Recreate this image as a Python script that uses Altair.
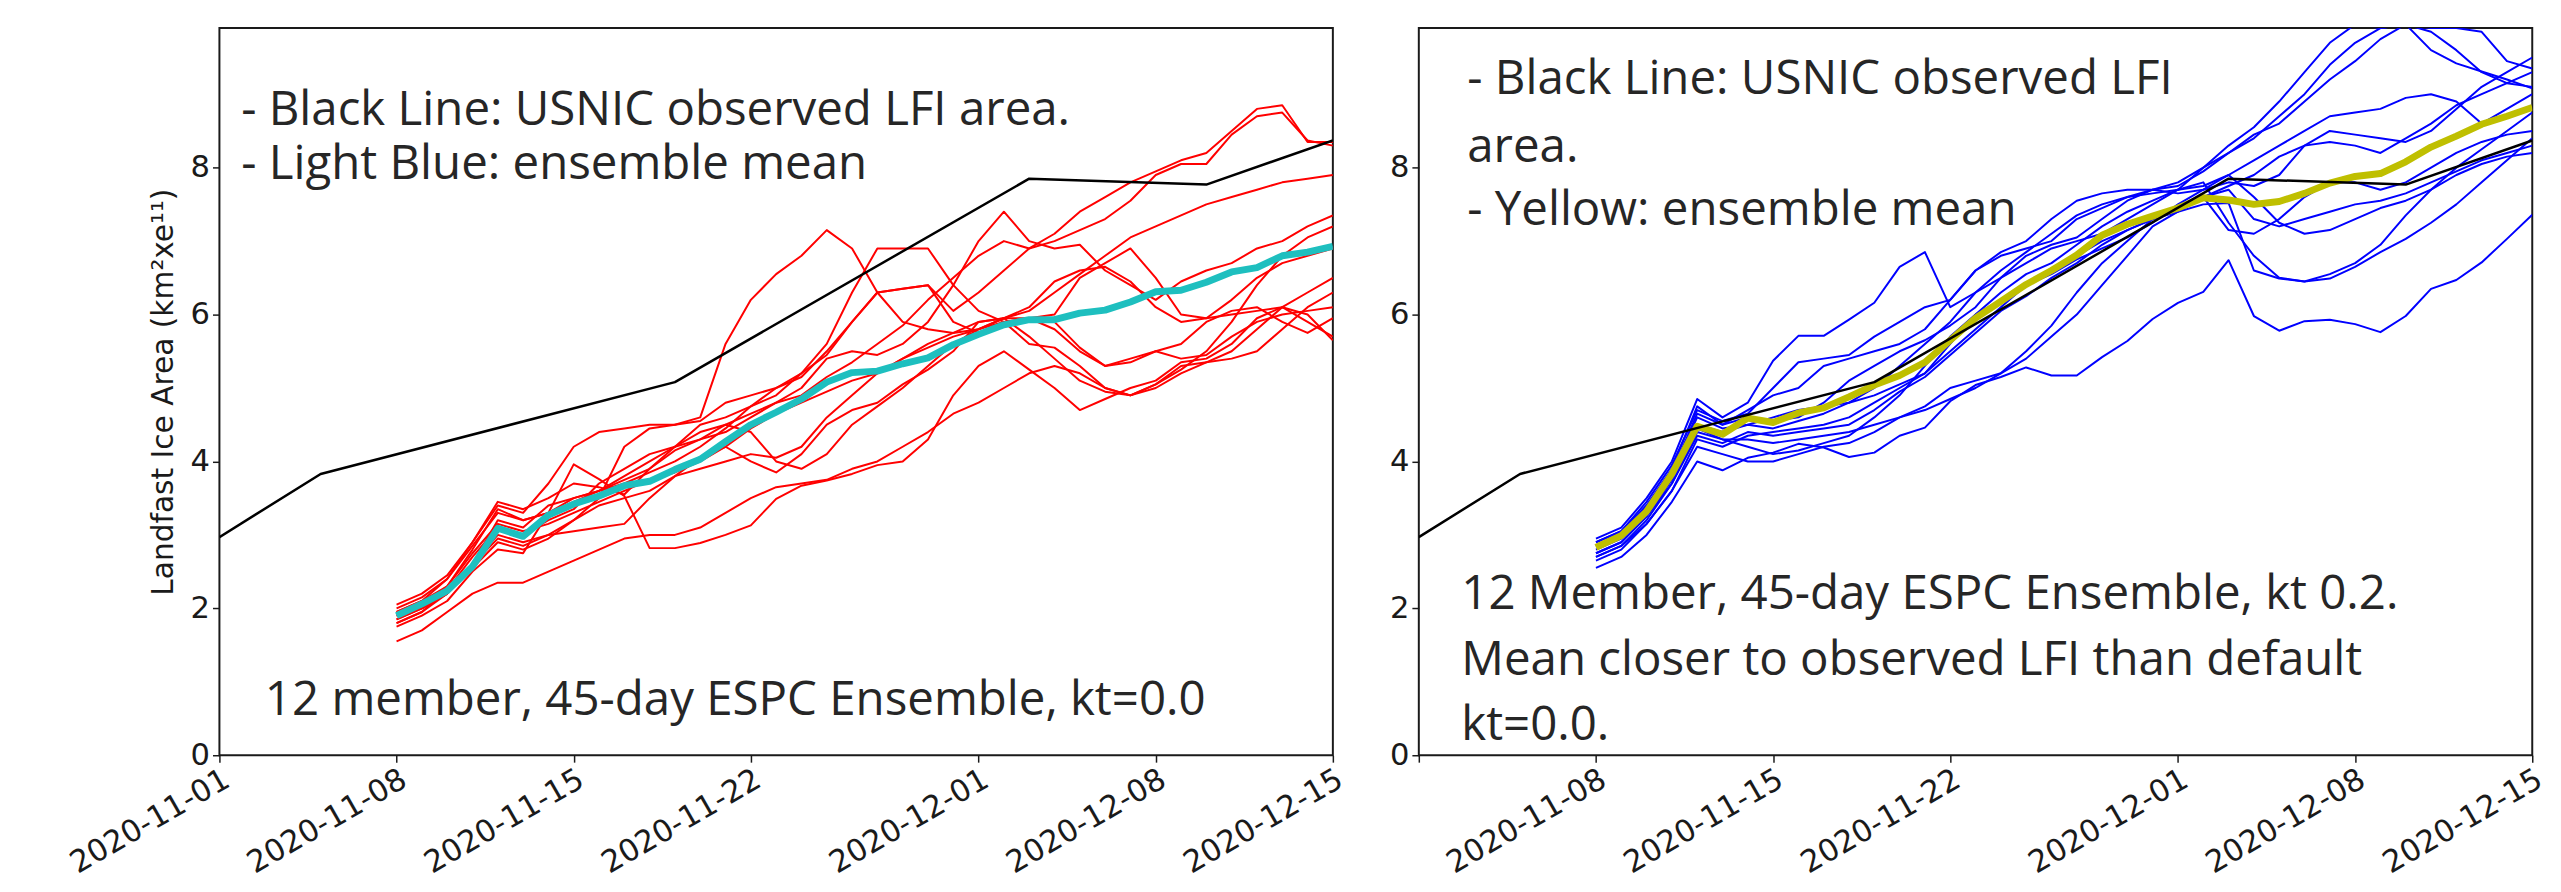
import altair as alt
import pandas as pd

# ---------------- data ----------------
DAYS = pd.date_range("2020-11-08", "2020-12-15", freq="D").strftime("%Y-%m-%d").tolist()

OBS_DATES = ["2020-11-01", "2020-11-05", "2020-11-19", "2020-12-03", "2020-12-10", "2020-12-15"]
OBS_VALUES = [2.97, 3.83, 5.08, 7.85, 7.77, 8.37]

TICK_DATES = ["2020-11-01", "2020-11-08", "2020-11-15", "2020-11-22", "2020-12-01", "2020-12-08", "2020-12-15"]
Y_TICKS = [0, 2, 4, 6, 8]

# left panel (kt=0.0): ensemble mean and 12 members, daily 11-08 .. 12-15
MEAN_LEFT = [1.90, 2.06, 2.24, 2.57, 3.09, 2.98, 3.27, 3.42, 3.53, 3.67, 3.73, 3.89, 4.03, 4.27, 4.50,
             4.67, 4.85, 5.08, 5.21, 5.23, 5.33, 5.41, 5.59, 5.73, 5.86, 5.93, 5.93, 6.02, 6.06, 6.17,
             6.31, 6.33, 6.44, 6.58, 6.64, 6.80, 6.85, 6.93]
L01 = [1.85, 2.0, 2.2, 2.6, 3.2, 3.1, 3.4, 3.5, 3.6, 3.75, 3.9, 4.15, 4.3, 4.5, 4.65, 4.8, 4.9, 5.15, 5.35, 5.6,
       5.85, 6.2, 6.5, 6.8, 7.0, 6.9, 7.1, 7.4, 7.6, 7.8, 7.95, 8.1, 8.2, 8.5, 8.8, 8.85, 8.35, 8.35]
L02 = [1.95, 2.1, 2.3, 2.8, 3.35, 3.2, 3.3, 3.45, 3.6, 3.7, 3.85, 4.0, 4.2, 4.45, 4.75, 5.0, 5.2, 5.45, 5.9, 6.3,
       6.35, 6.4, 6.05, 6.3, 6.6, 6.9, 7.0, 7.15, 7.3, 7.55, 7.9, 8.05, 8.05, 8.45, 8.7, 8.75, 8.37, 8.3]
L03 = [1.95, 2.1, 2.4, 2.9, 3.4, 3.3, 3.7, 4.2, 4.4, 4.45, 4.5, 4.5, 4.6, 5.6, 6.2, 6.55, 6.8, 7.15, 6.9, 6.3,
       5.9, 5.8, 5.75, 5.8, 5.9, 5.95, 5.9, 5.55, 5.3, 5.35, 5.5, 5.6, 5.9, 6.05, 6.1, 5.9, 5.75, 5.95]
L04 = [1.8, 1.95, 2.25, 2.7, 3.1, 3.0, 3.2, 3.35, 3.7, 3.9, 4.1, 4.2, 4.3, 4.4, 4.6, 4.8, 5.0, 5.4, 5.5, 5.45,
       5.6, 5.9, 6.4, 7.0, 7.4, 7.0, 6.9, 6.95, 6.6, 6.4, 6.2, 6.45, 6.6, 6.7, 6.9, 7.0, 7.2, 7.35]
L05 = [2.0, 2.15, 2.4, 2.85, 3.3, 3.2, 3.3, 3.5, 3.6, 3.8, 4.0, 4.2, 4.5, 4.6, 4.75, 4.9, 5.2, 5.6, 6.3, 6.9,
       6.9, 6.9, 6.4, 6.05, 5.9, 5.6, 5.55, 5.3, 5.0, 4.9, 5.0, 5.2, 5.35, 5.5, 5.8, 6.1, 6.3, 6.5]
L06 = [1.9, 2.05, 2.3, 2.75, 3.15, 3.05, 3.15, 3.3, 3.45, 3.6, 3.75, 3.85, 4.0, 4.2, 4.45, 4.65, 4.8, 4.95, 5.1, 5.2,
       5.4, 5.55, 5.7, 5.8, 5.95, 6.05, 6.3, 6.55, 6.8, 7.05, 7.2, 7.35, 7.5, 7.6, 7.7, 7.8, 7.85, 7.9]
L07 = [1.85, 2.0, 2.2, 2.6, 2.95, 2.85, 3.0, 3.2, 3.4, 3.5, 3.6, 3.8, 3.9, 4.0, 4.1, 4.05, 4.2, 4.6, 4.9, 5.2,
       5.4, 5.6, 5.75, 5.9, 5.95, 5.7, 5.4, 5.1, 4.95, 4.9, 5.05, 5.25, 5.5, 5.9, 6.4, 6.8, 7.05, 7.2]
L08 = [1.75, 1.9, 2.1, 2.5, 2.8, 2.75, 3.3, 3.96, 3.76, 3.53, 2.82, 2.82, 2.89, 3.0, 3.13, 3.49, 3.67, 3.74, 3.83, 3.95,
       4.0, 4.3, 4.9, 5.3, 5.5, 5.25, 5.0, 4.7, 4.85, 5.0, 5.1, 5.35, 5.4, 5.6, 5.95, 6.1, 6.0, 5.65]
L09 = [1.55, 1.7, 1.95, 2.2, 2.35, 2.35, 2.5, 2.65, 2.8, 2.95, 3.0, 3.0, 3.1, 3.3, 3.5, 3.65, 3.7, 3.75, 3.9, 4.0,
       4.2, 4.4, 4.65, 4.8, 5.0, 5.2, 5.3, 5.2, 5.0, 4.9, 5.05, 5.3, 5.35, 5.4, 5.5, 5.8, 6.1, 6.3]
L10 = [2.05, 2.2, 2.45, 2.9, 3.45, 3.35, 3.5, 3.7, 3.65, 3.55, 3.9, 4.2, 4.4, 4.5, 4.4, 4.0, 3.9, 4.1, 4.5, 4.75,
       5.0, 5.3, 5.6, 5.8, 5.95, 6.1, 6.45, 6.6, 6.65, 6.45, 6.1, 5.9, 5.95, 6.2, 6.5, 6.7, 6.8, 6.9]
L11 = [1.8, 1.95, 2.2, 2.6, 3.0, 2.9, 3.0, 3.05, 3.1, 3.15, 3.5, 3.8, 4.05, 4.2, 4.0, 3.85, 4.1, 4.5, 4.7, 4.8,
       5.05, 5.25, 5.5, 5.9, 5.95, 5.95, 5.8, 5.5, 5.3, 5.4, 5.5, 5.4, 5.45, 5.7, 5.9, 6.0, 6.05, 6.1]
L12 = [1.9, 2.0, 2.2, 2.55, 2.9, 2.8, 2.95, 3.2, 3.5, 4.2, 4.45, 4.5, 4.55, 4.8, 4.9, 5.0, 5.15, 5.5, 5.9, 6.3,
       6.35, 6.4, 5.9, 5.75, 5.85, 5.95, 6.0, 6.5, 6.7, 6.9, 6.5, 6.0, 5.95, 6.0, 6.05, 6.1, 5.9, 5.7]

# right panel (kt 0.2)
MEAN_RIGHT = [2.83, 2.99, 3.32, 3.83, 4.48, 4.37, 4.59, 4.53, 4.66, 4.73, 4.88, 5.04, 5.17, 5.35, 5.65,
              5.95, 6.18, 6.41, 6.60, 6.81, 7.08, 7.23, 7.34, 7.45, 7.59, 7.56, 7.50, 7.54, 7.65, 7.79,
              7.88, 7.92, 8.08, 8.28, 8.43, 8.59, 8.70, 8.82]
R01 = [2.95, 3.1, 3.5, 4.0, 4.85, 4.6, 4.8, 5.37, 5.71, 5.71, 5.93, 6.16, 6.65, 6.85, 6.1, 6.3, 6.5, 6.7, 6.9, 7.0,
       7.1, 7.3, 7.5, 7.7, 8.0, 8.3, 8.55, 8.9, 9.3, 9.7, 9.95, 9.9, 9.95, 9.9, 9.9, 9.85, 9.45, 9.35]
R02 = [2.9, 3.05, 3.45, 3.95, 4.7, 4.55, 4.65, 5.0, 5.35, 5.4, 5.45, 5.7, 5.9, 6.1, 6.2, 6.6, 6.85, 7.0, 7.3, 7.55,
       7.65, 7.7, 7.7, 7.75, 7.95, 8.2, 8.45, 8.6, 8.9, 9.2, 9.45, 9.75, 9.95, 9.6, 9.42, 9.31, 9.2, 9.08]
R03 = [2.65, 2.8, 3.15, 3.6, 4.3, 4.2, 4.35, 4.4, 4.45, 4.5, 4.6, 4.8, 5.0, 5.2, 5.5, 5.8, 6.1, 6.4, 6.6, 6.8,
       7.0, 7.15, 7.3, 7.4, 7.5, 7.52, 6.6, 6.49, 6.45, 6.49, 6.65, 6.85, 7.03, 7.25, 7.5, 7.8, 8.1, 8.4]
R04 = [2.55, 2.7, 3.0, 3.45, 4.0, 3.88, 4.05, 4.12, 4.24, 4.19, 4.06, 4.12, 4.35, 4.46, 4.82, 5.04, 5.15, 5.28, 5.17, 5.17,
       5.42, 5.64, 5.94, 6.16, 6.31, 6.74, 5.98, 5.78, 5.91, 5.93, 5.87, 5.76, 5.98, 6.35, 6.47, 6.71, 7.03, 7.36]
R05 = [2.75, 2.9, 3.25, 3.75, 4.45, 4.3, 4.2, 4.1, 4.15, 4.25, 4.35, 4.6, 4.9, 5.3, 5.7, 6.0, 6.3, 6.55, 6.7, 6.95,
       7.2, 7.4, 7.55, 7.7, 7.8, 7.25, 6.8, 6.5, 6.45, 6.55, 6.7, 6.95, 7.35, 7.7, 8.0, 8.25, 8.5, 8.75]
R06 = [2.85, 3.0, 3.35, 3.85, 4.6, 4.45, 4.5, 4.6, 4.7, 4.75, 4.8, 5.0, 5.3, 5.6, 5.9, 6.3, 6.6, 6.85, 7.1, 7.35,
       7.5, 7.6, 7.65, 7.7, 7.75, 7.9, 8.1, 8.3, 8.5, 8.7, 8.75, 8.8, 8.95, 9.0, 8.9, 8.6, 8.8, 9.0]
R07 = [2.7, 2.85, 3.2, 3.7, 4.4, 4.3, 4.3, 4.25, 4.3, 4.35, 4.4, 4.5, 4.6, 4.75, 5.0, 5.1, 5.2, 5.4, 5.7, 6.0,
       6.4, 6.8, 7.2, 7.4, 7.6, 7.7, 7.3, 7.2, 7.3, 7.4, 7.5, 7.55, 7.65, 7.8, 7.95, 8.1, 8.2, 8.3]
R08 = [2.9, 3.05, 3.4, 3.9, 4.75, 4.5, 4.7, 4.9, 5.0, 5.3, 5.4, 5.5, 5.6, 5.8, 6.2, 6.6, 6.8, 6.9, 7.0, 7.3,
       7.45, 7.6, 7.7, 7.65, 7.7, 7.8, 7.75, 7.9, 8.3, 8.5, 8.45, 8.4, 8.35, 8.5, 8.8, 9.1, 9.3, 9.5]
R09 = [2.8, 2.95, 3.3, 3.8, 4.5, 4.4, 4.5, 4.45, 4.55, 4.65, 4.8, 4.9, 5.05, 5.2, 5.6, 6.0, 6.2, 6.4, 6.55, 6.75,
       6.9, 7.05, 7.25, 7.5, 7.7, 7.9, 7.6, 7.25, 7.1, 7.15, 7.3, 7.45, 7.55, 7.7, 7.9, 8.05, 8.15, 8.2]
R10 = [2.85, 3.0, 3.4, 3.85, 4.65, 4.5, 4.6, 4.55, 4.6, 4.8, 5.1, 5.3, 5.5, 5.65, 5.85, 6.1, 6.5, 6.8, 6.95, 7.05,
       7.3, 7.55, 7.7, 7.8, 8.0, 8.2, 8.4, 8.7, 9.0, 9.4, 9.7, 9.9, 9.95, 9.85, 9.6, 9.3, 9.15, 9.1]
R11 = [2.7, 2.85, 3.15, 3.6, 4.2, 4.1, 4.0, 4.0, 4.1, 4.2, 4.25, 4.4, 4.6, 4.7, 4.85, 5.0, 5.2, 5.5, 5.85, 6.3,
       6.7, 7.0, 7.3, 7.45, 7.6, 7.15, 7.1, 7.3, 7.6, 7.8, 7.8, 7.7, 7.8, 8.0, 8.2, 8.35, 8.45, 8.5]
R12 = [2.75, 2.9, 3.25, 3.7, 4.35, 4.25, 4.4, 4.35, 4.4, 4.45, 4.5, 4.7, 4.95, 5.15, 5.45, 5.75, 6.05, 6.25, 6.5, 6.7,
       6.95, 7.15, 7.3, 7.45, 7.6, 7.75, 7.9, 8.15, 8.3, 8.35, 8.3, 8.2, 8.4, 8.6, 8.85, 9.0, 9.15, 9.3]

LEFT_MEMBERS = [L01, L02, L03, L04, L05, L06, L07, L08, L09, L10, L11, L12]
RIGHT_MEMBERS = [R01, R02, R03, R04, R05, R06, R07, R08, R09, R10, R11, R12]

LEFT_TEXT = ["- Black Line: USNIC observed LFI area.", "- Light Blue: ensemble mean",
             "12 member, 45-day ESPC Ensemble, kt=0.0"]
RIGHT_TEXT = ["- Black Line: USNIC observed LFI", "area.", "- Yellow: ensemble mean",
              "12 Member, 45-day ESPC Ensemble,  kt 0.2.", "Mean closer to observed LFI than default",
              "kt=0.0."]
Y_TITLE = "Landfast Ice Area (km\u00b2xe\u00b9\u00b9)"

# ---------------- helpers ----------------
def ms(d):
    return int(pd.Timestamp(d, tz="UTC").timestamp() * 1000)

X_DOMAIN = [ms("2020-11-01"), ms("2020-12-15")]
TICK_MS = [ms(d) for d in TICK_DATES]

W, H = 1127, 736
TXT_FONT = "Open Sans"
TXT_SIZE = 48
TXT_COLOR = "#262626"
AX_FONT = "DejaVu Sans"


def members_df(members):
    rows = []
    for i, vals in enumerate(members):
        for d, v in zip(DAYS, vals):
            rows.append({"date": d, "value": v, "member": f"m{i + 1:02d}"})
    return pd.DataFrame(rows)


def text_layer(txt, px, py):
    return alt.Chart(alt.Data(values=[{}])).mark_text(
        text=txt, align="left", baseline="alphabetic", font=TXT_FONT,
        fontSize=TXT_SIZE, color=TXT_COLOR
    ).encode(x=alt.value(px), y=alt.value(py))


def panel(members, mean_vals, mcolor, meancolor, texts, positions, left):
    if left:
        label_expr = "utcFormat(datum.value, '%Y-%m-%d')"
    else:
        label_expr = ("utcFormat(datum.value, '%m-%d') == '11-01' ? '' : "
                      "utcFormat(datum.value, '%Y-%m-%d')")
    x = alt.X("date:T",
              scale=alt.Scale(type="utc", domain=X_DOMAIN),
              axis=alt.Axis(values=TICK_MS, labelExpr=label_expr, title=None,
                            labelAngle=330, labelAlign="right", labelBaseline="top",
                            labelPadding=2, labelLimit=1000))
    yaxis_kw = dict(values=Y_TICKS, labelPadding=3)
    if left:
        yaxis_kw.update(title=Y_TITLE, titleFont=AX_FONT, titleFontSize=30,
                        titleFontWeight="normal", titleColor="#1a1a1a", titlePadding=12)
    else:
        yaxis_kw.update(title=None)
    y = alt.Y("value:Q", scale=alt.Scale(domain=[0, 9.9], nice=False, zero=True),
              axis=alt.Axis(**yaxis_kw))

    mem = alt.Chart(members_df(members)).mark_line(
        color=mcolor, strokeWidth=2, clip=True, strokeJoin="round"
    ).encode(x=x, y=y, detail="member:N")
    mean = alt.Chart(pd.DataFrame({"date": DAYS, "value": mean_vals})).mark_line(
        color=meancolor, strokeWidth=7, clip=True, strokeJoin="round"
    ).encode(x=x, y=y)
    obs = alt.Chart(pd.DataFrame({"date": OBS_DATES, "value": OBS_VALUES})).mark_line(
        color="#000000", strokeWidth=2.5, clip=True, strokeJoin="round"
    ).encode(x=x, y=y)
    layers = [mem, mean, obs] + [text_layer(t, p[0], p[1]) for t, p in zip(texts, positions)]
    return alt.layer(*layers).properties(width=W, height=H)


left = panel(LEFT_MEMBERS, MEAN_LEFT, "#ff0000", "#1ebfbf", LEFT_TEXT,
             [(22, 98), (22, 153), (46, 695)], True)
right = panel(RIGHT_MEMBERS, MEAN_RIGHT, "#0000ff", "#bfbf00", RIGHT_TEXT,
              [(49, 67), (49, 136), (49, 199), (43, 588), (43, 655), (43, 721)], False)

chart = alt.hconcat(left, right, spacing=40).properties(
    padding={"left": 56, "top": 14, "right": 5, "bottom": 0},
    background="white",
).configure_view(
    stroke="#1a1a1a", strokeWidth=2
).configure_axis(
    domain=False, grid=False, ticks=True, tickColor="#1a1a1a", tickWidth=1.5, tickSize=7,
    labelFont=AX_FONT, labelFontSize=31, labelColor="#1a1a1a",
    labelFlush=False, labelOverlap=False
)

chart.save("out.html", embed_options={"renderer": "svg", "actions": False})
